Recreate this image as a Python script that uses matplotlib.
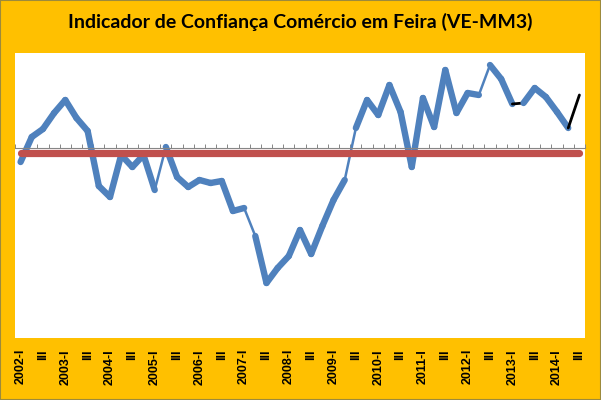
import matplotlib
matplotlib.use('Agg')
import matplotlib.pyplot as plt
from matplotlib.patches import Rectangle
import numpy as np

years = list(range(2002, 2015))
quarters = ['I', 'II', 'III', 'IV']
categories = [f'{y}-{q}' if q == 'I' else q for y in years for q in quarters][:51]

confianca = [-14, 11, 19, 35, 48, 30, 17, -38, -49, -7, -19, -7, -42, 1, -29, -39,
             -32, -35, -33, -63, -60, -88, -135, -120, -108, -82, -106, -78, -52, -32,
             20, 48, 33, 63, 36, -19, 50, 21, 78, 35, 55, 53, 83, 69, 44, 45, 60, 51,
             36, 20, 53]
referencia = [-5] * len(categories)

black_segs = [44, 49]
thin_segs = [12, 20, 29, 41]

fig = plt.figure(figsize=(6.01, 4.0), dpi=100, facecolor='#FFC000')
ax = fig.add_axes([15/601, 1-338/400, 570/601, 285/400])
ax.set_facecolor('white')
x = np.arange(len(categories))
ax.set_xlim(-0.5, len(categories) - 0.5)
ax.set_ylim(-190, 95)

for i in range(len(x) - 1):
    if i in black_segs:
        c, lw = '#000000', 2.0
    elif i in thin_segs:
        c, lw = '#4F81BD', 1.8
    else:
        c, lw = '#4F81BD', 4.6
    ax.plot(x[i:i+2], confianca[i:i+2], color=c, lw=lw,
            solid_capstyle='round', solid_joinstyle='round', zorder=2)

ax.plot(x, referencia, color='#C0504D', lw=5.2, solid_capstyle='round', zorder=3)

for s in ['left', 'right', 'top']:
    ax.spines[s].set_visible(False)
ax.spines['bottom'].set_position(('data', 0))
ax.spines['bottom'].set_color('#868686')
ax.spines['bottom'].set_linewidth(0.8)
ax.set_yticks([])
ax.set_xticks([])
ax.set_xticks(np.arange(-0.5, len(categories), 1), minor=True)
ax.tick_params(axis='x', which='minor', direction='in', length=3, color='#868686', width=0.7)

sec = ax.secondary_xaxis('bottom')
sec.set_xticks(x[::2], [categories[i] for i in range(0, len(categories), 2)], rotation=90)
sec.tick_params(length=0, pad=8, labelsize=9)
for lab in sec.get_xticklabels():
    lab.set_fontfamily('Liberation Sans')
    lab.set_fontweight('bold')
sec.spines['bottom'].set_visible(False)

fig.text(0.5, 1 - 22/400, 'Indicador de Confiança Comércio em Feira (VE-MM3)',
         ha='center', va='center', fontsize=14, fontweight='bold', family='Lato')

fig.patches.append(Rectangle((0, 0), 1, 1, transform=fig.transFigure, fill=False,
                             edgecolor='#9C8A3C', lw=1.5))

fig.savefig('out.png', dpi=100, facecolor=fig.get_facecolor())
